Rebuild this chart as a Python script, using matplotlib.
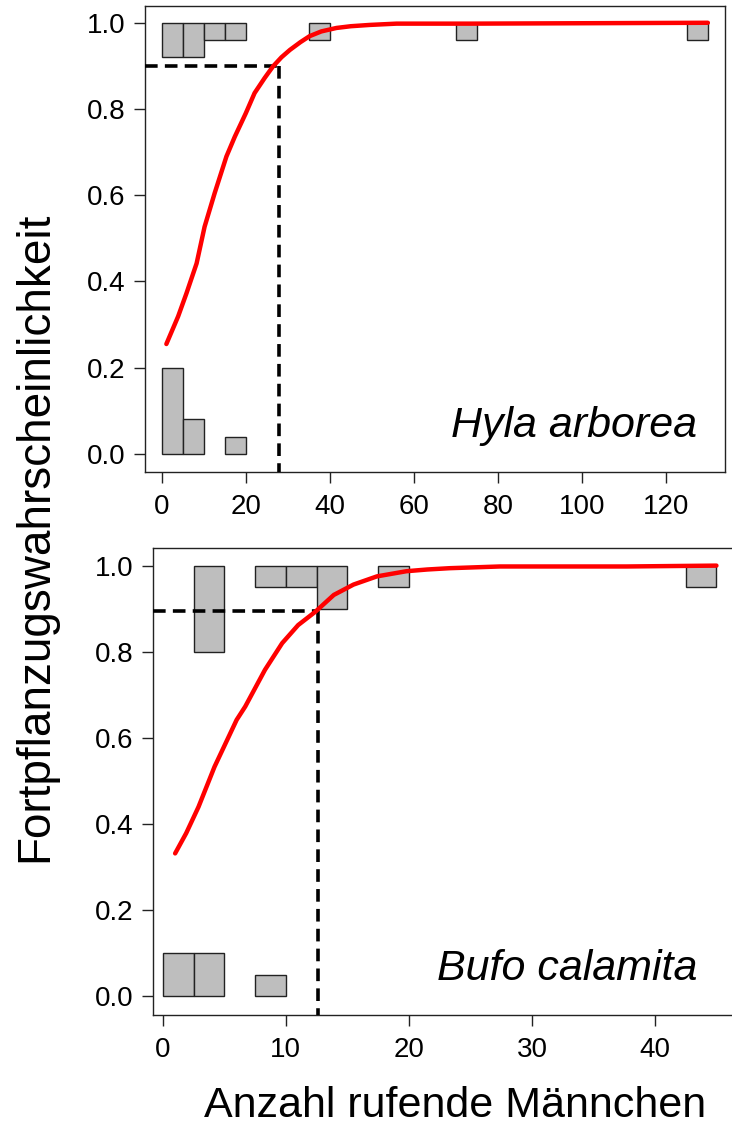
import matplotlib
matplotlib.use("Agg")
import matplotlib.pyplot as plt

plt.rcParams['font.family'] = ['Liberation Sans', 'DejaVu Sans']

# Hyla arborea: histogram bins (width 5), top = successful, bottom = failed
hyla_top_left = [0, 5, 10, 15, 35, 70, 125]
hyla_top_h = [0.08, 0.08, 0.04, 0.04, 0.04, 0.04, 0.04]
hyla_bot_left = [0, 5, 15]
hyla_bot_h = [0.20, 0.08, 0.04]
hyla_curve_x = [1.1, 3.9, 5.9, 8.3, 10.2, 12.6, 15.4, 17.4, 20.0, 22.1, 24.5,
                26.5, 28.5, 30.5, 33.0, 35.2, 38.0, 41.6, 45.0, 49.5, 55.9, 73.7, 130]
hyla_curve_y = [0.255, 0.319, 0.373, 0.442, 0.527, 0.605, 0.690, 0.736, 0.790,
                0.837, 0.872, 0.899, 0.920, 0.937, 0.955, 0.969, 0.980, 0.988,
                0.992, 0.995, 0.998, 0.998, 1.0]
hyla_thr_x = 28
hyla_thr_y = 0.90

# Bufo calamita: histogram bins (width 2.5)
bufo_top_left = [2.5, 7.5, 10, 12.5, 17.5, 42.5]
bufo_top_h = [0.20, 0.05, 0.05, 0.10, 0.05, 0.05]
bufo_bot_left = [0, 2.5, 7.5]
bufo_bot_h = [0.10, 0.10, 0.05]
bufo_curve_x = [1.0, 1.9, 2.9, 4.2, 6.0, 6.7, 8.3, 9.7, 11.0, 12.4, 13.9, 15.5,
                17.4, 19.8, 21.5, 23.3, 27.4, 37.7, 45]
bufo_curve_y = [0.332, 0.379, 0.440, 0.533, 0.642, 0.673, 0.758, 0.820, 0.862,
                0.893, 0.932, 0.956, 0.975, 0.987, 0.991, 0.994, 0.998, 0.998, 1.0]
bufo_thr_x = 12.6
bufo_thr_y = 0.895

yticks = [0.0, 0.2, 0.4, 0.6, 0.8, 1.0]

fig = plt.figure(figsize=(7.32, 11.24), dpi=100)
ax1 = fig.add_axes([0.198, 0.580, 0.792, 0.4147])
ax2 = fig.add_axes([0.209, 0.097, 0.80, 0.4155])


def draw(ax, tl, th, bl, bh, w, cx, cy, tx, ty, xlim, ylim, xticks, name, tpos):
    ax.bar(tl, th, width=w, bottom=[1 - h for h in th], align='edge',
           color='#bebebe', edgecolor='#222222', linewidth=1.0, zorder=2)
    ax.bar(bl, bh, width=w, align='edge',
           color='#bebebe', edgecolor='#222222', linewidth=1.0, zorder=2)
    ax.plot(cx, cy, color='red', lw=3.2, zorder=4, solid_capstyle='round',
            solid_joinstyle='round')
    ax.plot([xlim[0], tx], [ty, ty], color='black', lw=2.6, ls=(0, (3.5, 2)), zorder=3)
    ax.plot([tx, tx], [ty, ylim[0]], color='black', lw=2.6, ls=(0, (3.5, 2)), zorder=3)
    ax.set_xlim(xlim)
    ax.set_ylim(ylim)
    ax.set_xticks(xticks)
    ax.set_yticks(yticks)
    ax.set_yticklabels(['%.1f' % v for v in yticks])
    ax.tick_params(labelsize=20, length=8, width=1, color='#222222')
    ax.tick_params(axis='x', pad=8)
    ax.tick_params(axis='y', pad=6)
    for s in ax.spines.values():
        s.set_color('#222222')
        s.set_linewidth(1.0)
    ax.text(tpos, 0.075, name, transform=ax.transAxes, ha='right', va='baseline',
            fontsize=31, style='italic')


draw(ax1, hyla_top_left, hyla_top_h, hyla_bot_left, hyla_bot_h, 5,
     hyla_curve_x, hyla_curve_y, hyla_thr_x, hyla_thr_y,
     (-4.0, 134.0), (-0.042, 1.039), [0, 20, 40, 60, 80, 100, 120], 'Hyla arborea', 0.952)
draw(ax2, bufo_top_left, bufo_top_h, bufo_bot_left, bufo_bot_h, 2.5,
     bufo_curve_x, bufo_curve_y, bufo_thr_x, bufo_thr_y,
     (-0.8, 46.8), (-0.043, 1.041), [0, 10, 20, 30, 40], 'Bufo calamita', 0.93)

fig.text(0.048, 0.522, 'Fortpflanzugswahrscheinlichkeit', rotation=90,
         ha='center', va='center', fontsize=33)
fig.text(0.622, 0.016, 'Anzahl rufende Männchen', ha='center', va='center',
         fontsize=31)

fig.savefig('out.png', dpi=100)
